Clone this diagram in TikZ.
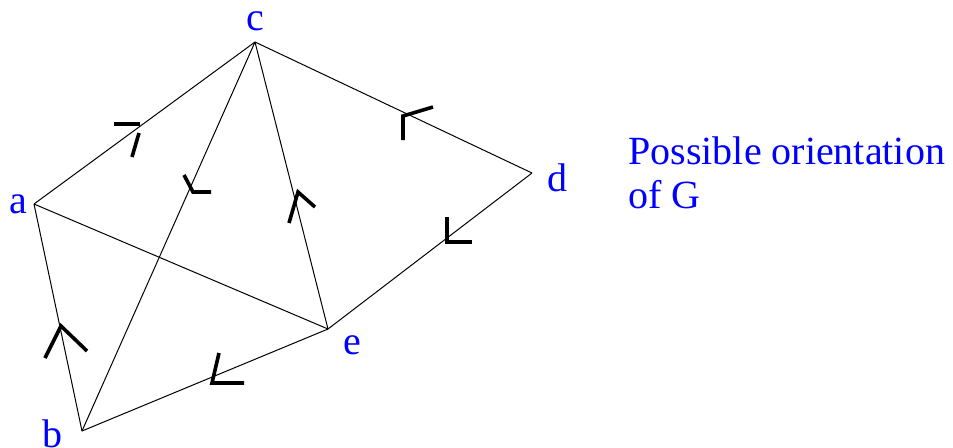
\documentclass[tikz,border=0pt]{standalone}
\usepackage{fontspec}
\setmainfont{Liberation Serif}
\begin{document}
\begin{tikzpicture}
[
	x=0.5pt, y=-0.5pt,
	vlabel/.style={text=blue,font=\fontsize{20}{22}\selectfont,inner sep=0pt},
	edge/.style={line width=0.5pt},
	orient/.style={line width=1.8pt}
]
	\useasboundingbox (0,0) rectangle (953,447);

	% vertices
	\coordinate (a) at (34,204);
	\coordinate (b) at (82,431);
	\coordinate (c) at (255,42);
	\coordinate (d) at (532,173);
	\coordinate (e) at (328,329);

	% vertex labels
	\node[vlabel] (la) at (18,204) {a};
	\node[vlabel] (lb) at (52,434) {b};
	\node[vlabel] (lc) at (255,21) {c};
	\node[vlabel] (ld) at (557,178) {d};
	\node[vlabel] (le) at (352,345) {e};

	% edges
	\draw[edge] (a) -- (c);
	\draw[edge] (c) -- (b);
	\draw[edge] (c) -- (e);
	\draw[edge] (c) -- (d);
	\draw[edge] (d) -- (e);
	\draw[edge] (a) -- (e);
	\draw[edge] (a) -- (b);
	\draw[edge] (b) -- (e);

	% orientation marks
	\draw[orient] (114,124) -- (140,124);
	\draw[orient] (139,133) -- (132,157);
	\draw[orient] (184,175) -- (193,192) -- (211,192);
	\draw[orient] (289,223) -- (298,192) -- (315,207);
	\draw[orient] (403,140) -- (403,116) -- (433,107);
	\draw[orient] (447,217) -- (447,242) -- (472,242);
	\draw[orient] (45,358) -- (61,326) -- (87,351);
	\draw[orient] (219,353) -- (212,383) -- (244,383);

	% caption
	\node[vlabel,anchor=north west,align=left] (caption) at (628,136)
		{Possible orientation\\of G};
\end{tikzpicture}
\end{document}
